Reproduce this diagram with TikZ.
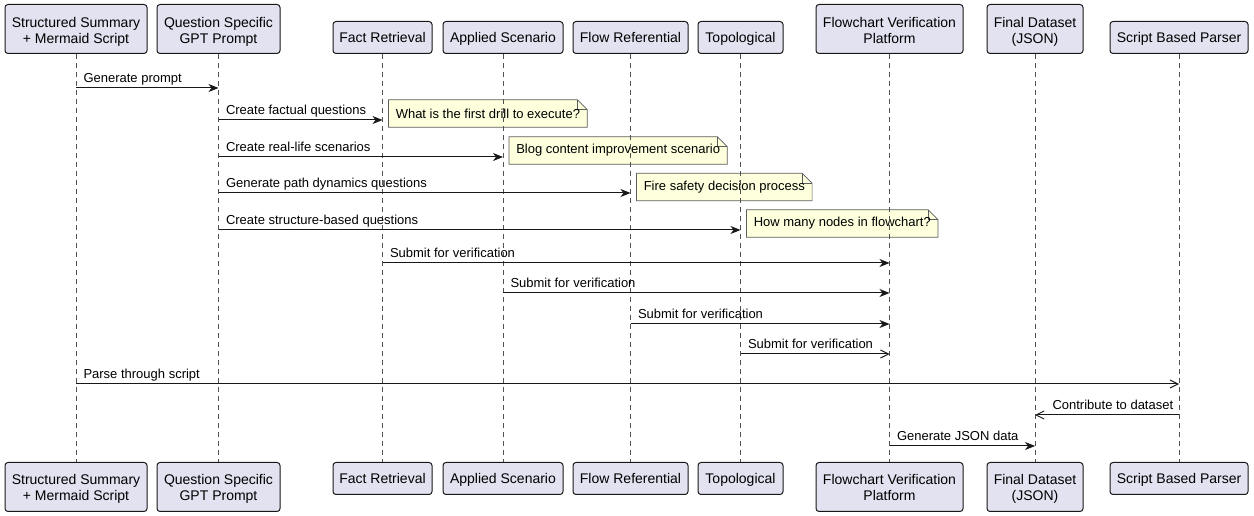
\documentclass[tikz,border=0pt]{standalone}
\usepackage{fontspec}
\setmainfont{Liberation Sans}
\usetikzlibrary{arrows.meta,calc,backgrounds}
\definecolor{partfill}{HTML}{E2E2F0}
\definecolor{linec}{HTML}{181818}
\definecolor{notefill}{HTML}{FEFFDD}
\begin{document}
\begin{tikzpicture}[x=0.75pt,y=-0.75pt,
 part/.style={draw=linec, fill=partfill, line width=0.75pt, rounded corners=2.25pt, align=center, inner sep=0pt, font=\fontsize{10.5}{12}\selectfont},
 two/.style={minimum height=36.75pt, text height=21.5pt, text depth=0pt},
 twob/.style={minimum height=36.75pt, text height=19.8pt, text depth=0pt},
 one/.style={minimum height=24pt, text height=8.75pt, text depth=1.25pt},
 lifeline/.style={draw=linec!75, line width=0.4pt, dash pattern=on 3.75pt off 3pt},
 msg/.style={draw=linec, line width=0.75pt, -{Stealth[length=7.5pt,width=6pt,inset=2.25pt]}},
 omsg/.style={draw=linec, line width=0.75pt, -{Straight Barb[length=6pt,width=6pt]}},
 lbl/.style={anchor=base west, inner sep=0pt, font=\fontsize{9.75}{11}\selectfont},
 notetext/.style={anchor=west, inner xsep=5.25pt, inner ysep=0pt, minimum height=20.25pt, font=\fontsize{9.75}{11}\selectfont},
 notebox/.style={draw=linec!70, fill=notefill, line width=0.5pt},
]
\useasboundingbox (0,0) rectangle (1254,516);

% top participants
\node[part,two,anchor=south,minimum width=106.5pt] (p1t) at (76,54) {Structured Summary\\+ Mermaid Script};
\node[part,two,anchor=south,minimum width=92.25pt] (p2t) at (218.5,54) {Question Specific\\GPT Prompt};
\node[part,one,anchor=south,minimum width=74.25pt] (p3t) at (382.5,54) {Fact Retrieval};
\node[part,one,anchor=south,minimum width=90pt] (p4t) at (503,54) {Applied Scenario};
\node[part,one,anchor=south,minimum width=86.25pt] (p5t) at (630.5,54) {Flow Referential};
\node[part,one,anchor=south,minimum width=63.75pt] (p6t) at (740.5,54) {Topological};
\node[part,two,anchor=south,minimum width=110.25pt] (p7t) at (889.5,54) {Flowchart Verification\\Platform};
\node[part,two,anchor=south,minimum width=72pt] (p8t) at (1035,54) {Final Dataset\\(JSON)};
\node[part,one,anchor=south,minimum width=103.5pt] (p9t) at (1179,54) {Script Based Parser};

% bottom participants
\node[part,twob,anchor=north,minimum width=106.5pt] (p1b) at (76,462) {Structured Summary\\+ Mermaid Script};
\node[part,twob,anchor=north,minimum width=92.25pt] (p2b) at (218.5,462) {Question Specific\\GPT Prompt};
\node[part,one,anchor=north,minimum width=74.25pt] (p3b) at (382.5,462) {Fact Retrieval};
\node[part,one,anchor=north,minimum width=90pt] (p4b) at (503,462) {Applied Scenario};
\node[part,one,anchor=north,minimum width=86.25pt] (p5b) at (630.5,462) {Flow Referential};
\node[part,one,anchor=north,minimum width=63.75pt] (p6b) at (740.5,462) {Topological};
\node[part,twob,anchor=north,minimum width=110.25pt] (p7b) at (889.5,462) {Flowchart Verification\\Platform};
\node[part,twob,anchor=north,minimum width=72pt] (p8b) at (1035,462) {Final Dataset\\(JSON)};
\node[part,one,anchor=north,minimum width=103.5pt] (p9b) at (1179,462) {Script Based Parser};

% notes (text), fills on background
\node[notetext] (n1) at ($(p3t |- 0,113.5)+(4.5pt,0)$) {What is the first drill to execute?};
\node[notetext] (n2) at ($(p4t |- 0,150.5)+(4.5pt,0)$) {Blog content improvement scenario};
\node[notetext] (n3) at ($(p5t |- 0,187)+(4.5pt,0)$) {Fire safety decision process};
\node[notetext] (n4) at ($(p6t |- 0,223.5)+(4.5pt,0)$) {How many nodes in flowchart?};
\begin{scope}[on background layer]
\foreach \n in {n1,n2,n3,n4}{
 \draw[notebox] (\n.north west) -- ($(\n.north east)+(-7.5pt,0)$) -- ($(\n.north east)+(0,-7.5pt)$) -- (\n.south east) -- (\n.south west) -- cycle;
 \draw[notebox,fill=none] ($(\n.north east)+(-7.5pt,0)$) -- ($(\n.north east)+(-7.5pt,-7.5pt)$) -- ($(\n.north east)+(0,-7.5pt)$);
}
\end{scope}

% lifelines
\foreach \i in {1,...,9}{
 \draw[lifeline] (p\i t.south) -- (p\i b.north);
}

% messages
\draw[msg] (p1t |- 0,88) -- (p2t |- 0,88) node[lbl,at start,xshift=5.25pt,yshift=3.75pt] {Generate prompt};
\draw[msg] (p2t |- 0,120) -- (p3t |- 0,120) node[lbl,at start,xshift=5.25pt,yshift=3.75pt] {Create factual questions};
\draw[msg] (p2t |- 0,157) -- (p4t |- 0,157) node[lbl,at start,xshift=5.25pt,yshift=3.75pt] {Create real-life scenarios};
\draw[msg] (p2t |- 0,193) -- (p5t |- 0,193) node[lbl,at start,xshift=5.25pt,yshift=3.75pt] {Generate path dynamics questions};
\draw[msg] (p2t |- 0,230) -- (p6t |- 0,230) node[lbl,at start,xshift=5.25pt,yshift=3.75pt] {Create structure-based questions};
\draw[msg] (p3t |- 0,263) -- (p7t |- 0,263) node[lbl,at start,xshift=5.25pt,yshift=3.75pt] {Submit for verification};
\draw[msg] (p4t |- 0,293) -- (p7t |- 0,293) node[lbl,at start,xshift=5.25pt,yshift=3.75pt] {Submit for verification};
\draw[msg] (p5t |- 0,324) -- (p7t |- 0,324) node[lbl,at start,xshift=5.25pt,yshift=3.75pt] {Submit for verification};
\draw[omsg] (p6t |- 0,354) -- (p7t |- 0,354) node[lbl,at start,xshift=5.25pt,yshift=3.75pt] {Submit for verification};
\draw[omsg] (p1t |- 0,384) -- (p9t |- 0,384) node[lbl,at start,xshift=5.25pt,yshift=3.75pt] {Parse through script};
\draw[omsg] (p9t |- 0,415) -- (p8t |- 0,415) node[lbl,at end,xshift=12.75pt,yshift=3.75pt] {Contribute to dataset};
\draw[msg] (p7t |- 0,446) -- (p8t |- 0,446) node[lbl,at start,xshift=5.25pt,yshift=3.75pt] {Generate JSON data};
\end{tikzpicture}
\end{document}
